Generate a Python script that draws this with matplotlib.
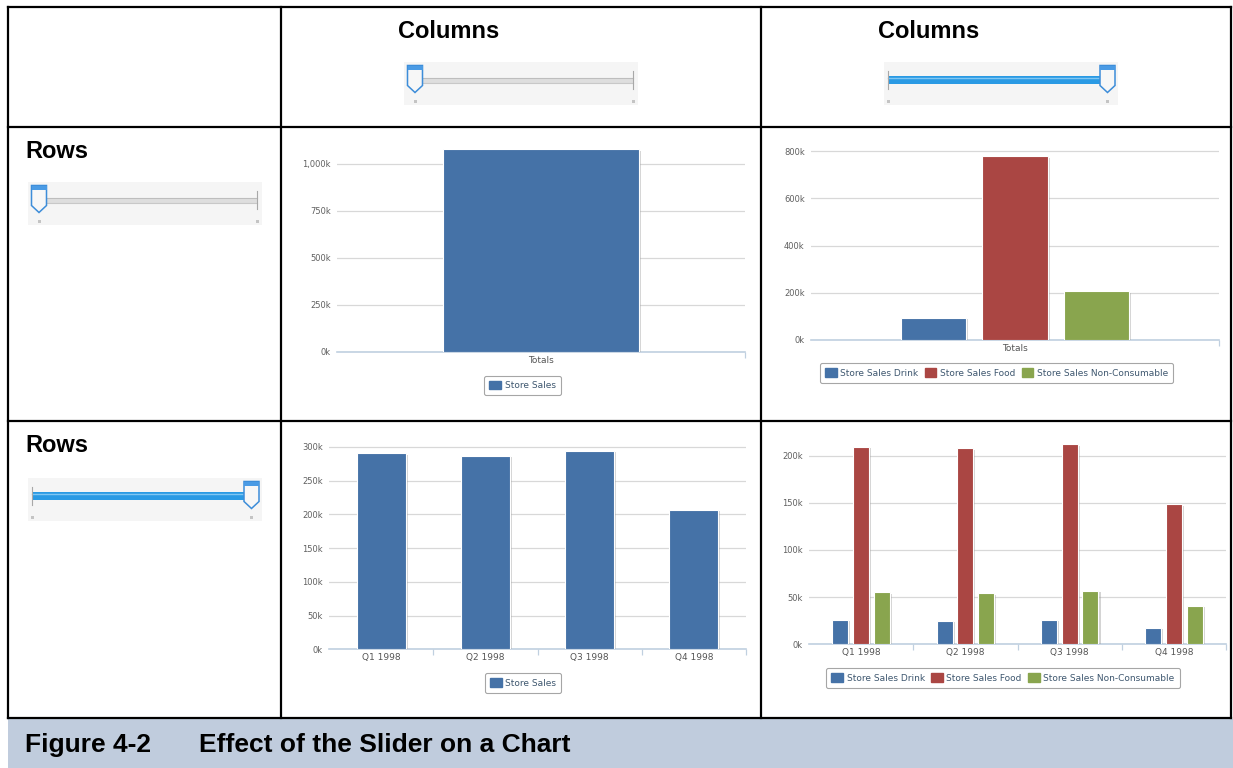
import matplotlib.pyplot as plt
import matplotlib.patheffects as pe
from matplotlib.patches import Rectangle, Polygon, Patch
import numpy as np

# Store sales 1998, in thousands, by quarter and product family
quarters = ['Q1 1998', 'Q2 1998', 'Q3 1998', 'Q4 1998']
drink = [25.8, 24.7, 25.8, 17.6]
food = [209.6, 207.8, 212.1, 148.5]
non_consumable = [55.1, 54.1, 56.8, 40.6]
families = ['Store Sales Drink', 'Store Sales Food', 'Store Sales Non-Consumable']
colors = ['#4572A7', '#AA4643', '#89A54E']

by_family = [drink, food, non_consumable]
family_totals = [sum(s) for s in by_family]
quarter_totals = list(np.sum(by_family, axis=0))
grand_total = sum(family_totals)

W, H = 1233, 768
fig = plt.figure(figsize=(W / 100, H / 100), dpi=100)
fig.patch.set_facecolor('white')

# full-figure layer in pixel units for the table, headers and sliders
bg = fig.add_axes([0, 0, 1, 1])
bg.set_xlim(0, W)
bg.set_ylim(H, 0)
bg.axis('off')

bg.add_patch(Rectangle((8, 719), W - 8, 49, fc='#C0CCDD', ec='none'))
lw = 1.6
for y in [7, 127, 421, 718]:
    bg.plot([8, 1231], [y, y], color='black', lw=lw, solid_capstyle='projecting')
for x in [8, 281, 761, 1231]:
    bg.plot([x, x], [7, 718], color='black', lw=lw, solid_capstyle='projecting')

bold = dict(family='Liberation Sans', fontweight='bold', color='black')
bg.text(398, 31, 'Columns', fontsize=17, va='center', ha='left', **bold)
bg.text(878, 31, 'Columns', fontsize=17, va='center', ha='left', **bold)
bg.text(25, 152, 'Rows', fontsize=17, va='center', ha='left', **bold)
bg.text(25, 446, 'Rows', fontsize=17, va='center', ha='left', **bold)
bg.text(25, 745, 'Figure 4-2', fontsize=19, va='center', ha='left', **bold)
bg.text(199, 745, 'Effect of the Slider on a Chart', fontsize=19, va='center', ha='left', **bold)


def slider(x, y, at_end):
    bg.add_patch(Rectangle((x, y), 234, 43, fc='#F5F5F5', ec='none'))
    ty = y + 18
    left, right = x + 4, x + 229
    hx = x + 216 if at_end else x + 3.5
    hc = hx + 7.5
    if at_end:
        bg.add_patch(Rectangle((left, ty - 4), hc - left, 8, fc='#2A9AE4', ec='none'))
        bg.plot([left, hc], [ty - 2, ty - 2], color='#7FC6F3', lw=1)
        bg.plot([left, left], [ty - 9, ty + 9], color='#A8A8A8', lw=0.8)
        dots = [left, hc]
    else:
        bg.add_patch(Rectangle((hc, ty - 2.5), right - hc, 5, fc='#DEDEDE', ec='none'))
        bg.plot([hc, right], [ty - 2.5, ty - 2.5], color='#BDBDBD', lw=0.8)
        bg.plot([hc, right], [ty + 2.5, ty + 2.5], color='#C8C8C8', lw=0.8)
        bg.plot([right, right], [ty - 9, ty + 9], color='#A8A8A8', lw=0.8)
        dots = [hc, right]
    top = y + 3.5
    bg.add_patch(Polygon([(hx, top), (hx + 15, top), (hx + 15, top + 20),
                          (hc, top + 27), (hx, top + 20)], closed=True,
                         fc='#F7F7F7', ec='#3D8DD9', lw=1.1, zorder=3))
    bg.add_patch(Rectangle((hx, top), 15, 4, fc='#4A9BE5', ec='none', zorder=4))
    for d in dots:
        bg.add_patch(Rectangle((d - 1.5, y + 37.5), 3, 3, fc='#C4C4C4', ec='none'))


slider(404, 62, False)
slider(884, 62, True)
slider(28, 182, False)
slider(28, 478, True)

shadow = [pe.SimplePatchShadow(offset=(1.5, -1), shadow_rgbFace='#A0A0A0', alpha=0.45), pe.Normal()]


def chart(rect, ymax, step, cats, series, names, cols, width, offsets, legend_xy):
    x0, ytop, x1, ybase = rect
    ax = fig.add_axes([x0 / W, 1 - ybase / H, (x1 - x0) / W, (ybase - ytop) / H])
    n = len(cats)
    pos = np.arange(n)
    for vals, off, c in zip(series, offsets, cols):
        ax.bar(pos + off, vals, width, color=c, edgecolor='white', lw=0.8,
               zorder=3, path_effects=shadow)
    ax.set_xlim(-0.5, n - 0.5)
    ax.set_ylim(0, ymax)
    yt = np.arange(0, ymax, step)
    ax.set_yticks(yt)
    ax.set_yticklabels([f'{int(v):,}k' for v in yt])
    ax.yaxis.grid(True, color='#D8D8D8', lw=0.9)
    ax.set_axisbelow(True)
    ax.set_xticks(pos)
    ax.set_xticklabels(cats)
    ax.set_xticks(np.arange(0.5, n, 1.0), minor=True)
    ax.tick_params(axis='x', which='major', length=0, pad=3, labelsize=6.5, labelcolor='#555555')
    ax.tick_params(axis='x', which='minor', length=4, color='#C0D0E0', width=0.9)
    ax.tick_params(axis='y', length=0, pad=4.5, labelsize=6, labelcolor='#606060')
    for s in ['top', 'left', 'right']:
        ax.spines[s].set_visible(False)
    ax.spines['bottom'].set_color('#C0D0E0')
    ax.spines['bottom'].set_linewidth(1.2)
    ax.set_facecolor('none')
    handles = [Patch(facecolor=c, edgecolor=c) for c in cols]
    leg = ax.legend(handles, names, loc='center', ncol=len(names),
                    bbox_to_anchor=(legend_xy[0] / W, 1 - legend_xy[1] / H),
                    bbox_transform=fig.transFigure, fontsize=6.5, frameon=True,
                    fancybox=True, edgecolor='#909090', handlelength=1.3,
                    handleheight=1.1, handletextpad=0.4, columnspacing=0.7,
                    borderpad=0.55)
    leg.get_frame().set_linewidth(0.8)
    for t in leg.get_texts():
        t.set_color('#3E576F')
    return ax


chart((337, 148, 745, 352), 1085, 250, ['Totals'], [[grand_total]],
      ['Store Sales'], [colors[0]], 0.48, [0], (522.5, 385.5))
chart((811, 144, 1219, 340), 830, 200, ['Totals'], [[v] for v in family_totals],
      families, colors, 0.16, [-0.2, 0, 0.2], (996.5, 373))
chart((329, 443.6, 746, 649.3), 305, 50, quarters, [quarter_totals],
      ['Store Sales'], [colors[0]], 0.47, [0], (523, 683))
chart((809, 440.6, 1226, 644.3), 216, 50, quarters, by_family,
      families, colors, 0.153, [-0.2, 0, 0.2], (1003, 678))

fig.savefig('out.png', dpi=100)
